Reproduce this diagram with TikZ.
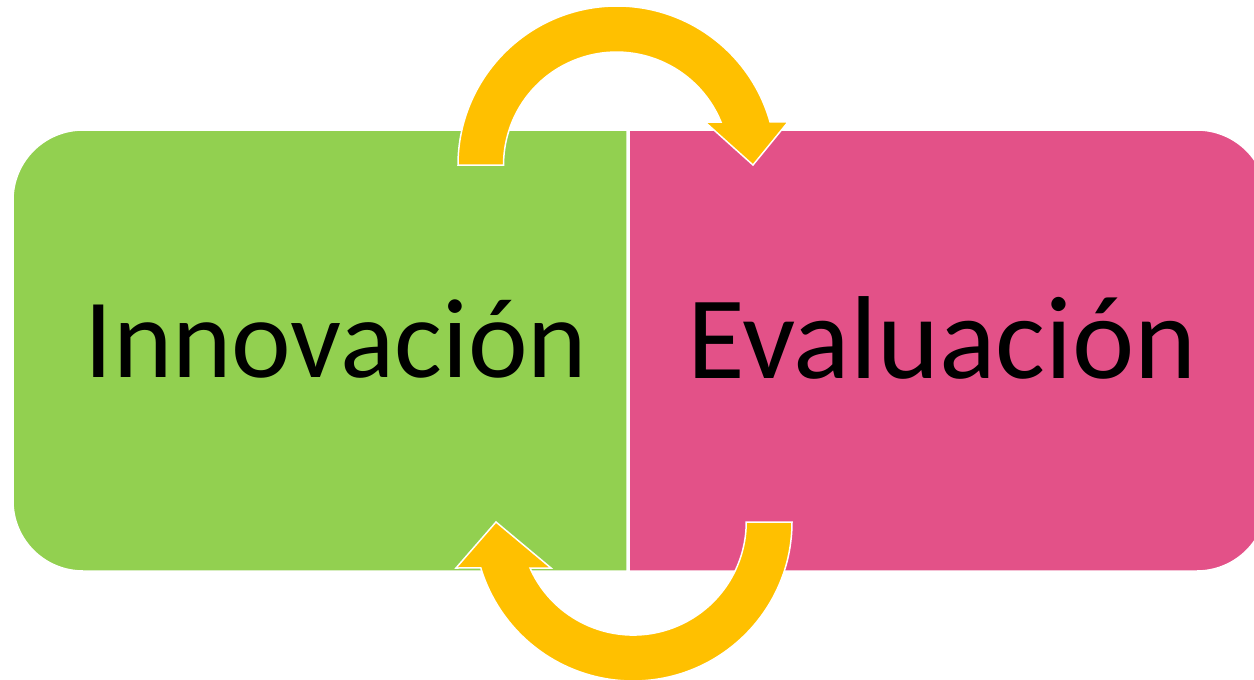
\documentclass[tikz,border=0pt]{standalone}
\usepackage{fontspec}
\setmainfont{Carlito}
\usepackage{tikz}

\definecolor{innovgreen}{RGB}{146,208,80}
\definecolor{evalpink}{RGB}{227,81,136}
\definecolor{cyclegold}{RGB}{255,192,0}

\tikzset{
	box/.style={draw=white, line width=1.5pt},
	cyclearrow/.style={fill=cyclegold, draw=white, line width=1.5pt, line join=miter},
	word/.style={anchor=base, inner sep=0pt, font=\fontsize{113}{136}\selectfont}
}

\begin{document}
\begin{tikzpicture}[x=1pt, y=-1pt]
	\useasboundingbox (0,0) rectangle (1254,680);
	\fill[white] (0,0) rectangle (1254,680);

	% the two halves
	\filldraw[box, fill=innovgreen] (627,130) -- (83,130) arc[start angle=270, end angle=180, radius=70]
		-- (13,501) arc[start angle=180, end angle=90, radius=70] -- (627,571) -- cycle;
	\filldraw[box, fill=evalpink] (629,130) -- (1197,130) arc[start angle=270, end angle=360, radius=70]
		-- (1267,501) arc[start angle=0, end angle=90, radius=70] -- (629,571) -- cycle;

	\node[word] (innov) at (336,377) {Innovación};
	\node[word, font=\fontsize{118}{140}\selectfont] (eval) at (942,378) {Evaluación};

	% arrows going round
	\filldraw[cyclearrow] (458,165) arc[start angle=180, end angle=344.3, radius=159]
		-- (788,122) -- (753,165) -- (705,122) -- (721,122)
		arc[start angle=337.6, end angle=180, radius=113] -- cycle;
	\filldraw[cyclearrow] (792,522) arc[start angle=0, end angle=163.2, radius=159]
		-- (456,568) -- (496,522) -- (551,568) -- (530,568)
		arc[start angle=156, end angle=0, radius=113] -- cycle;
\end{tikzpicture}
\end{document}
